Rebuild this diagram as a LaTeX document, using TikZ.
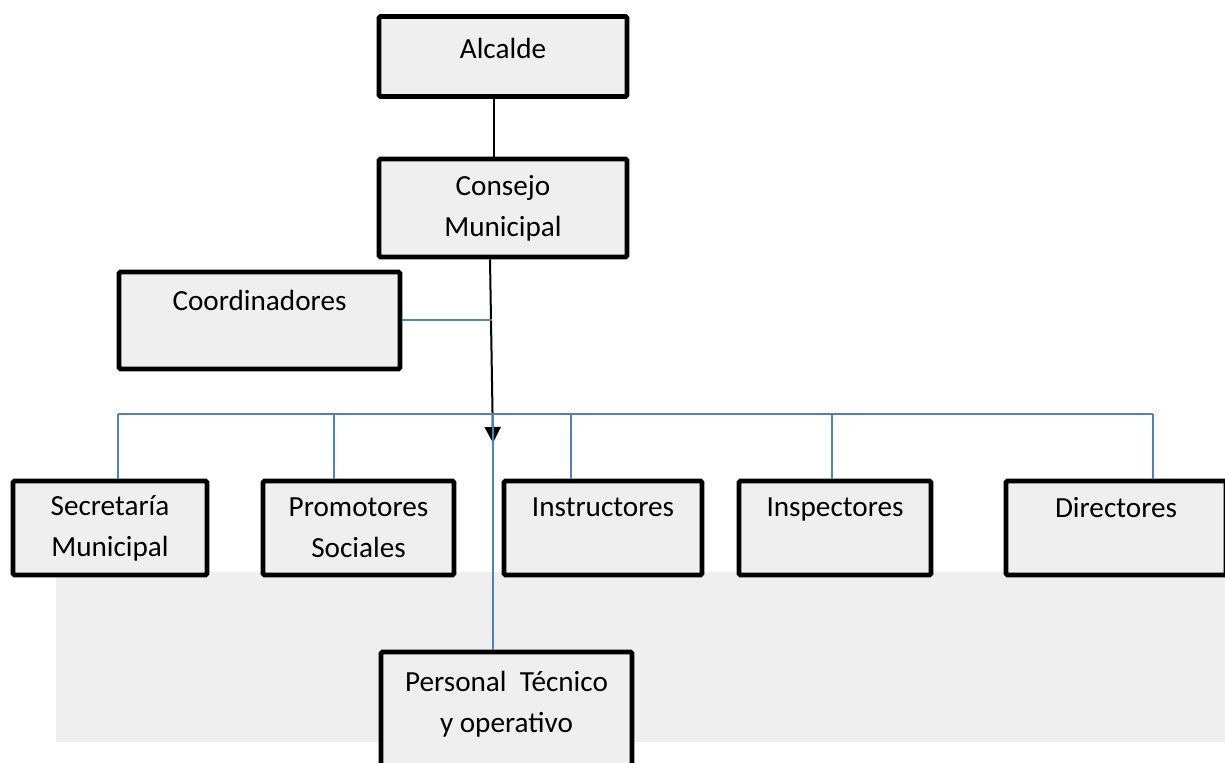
\documentclass[tikz,border=0pt]{standalone}
\usepackage{fontspec}
\setmainfont{Carlito}
\usetikzlibrary{arrows.meta}
\definecolor{cajagris}{RGB}{239,239,239}
\definecolor{azul}{RGB}{79,129,189}
\tikzset{
  caja/.style={draw=black, line width=2.4pt, fill=cajagris, rounded corners=0.8pt,
    align=center, inner sep=0pt, font=\fontsize{14.6}{20.5}\selectfont},
  enlace/.style={draw=azul, line width=0.8pt},
  mando/.style={draw=black, line width=1pt},
}

\begin{document}
\begin{tikzpicture}[x=0.5pt, y=-0.5pt]
  \useasboundingbox (0,0) rectangle (1225,763);
  \clip (0,0) rectangle (1225,763);
  \fill[cajagris] (56,572) rectangle (1225,742);

  % mandos
  \node[caja, minimum width=124pt, minimum height=40pt, text depth=8pt] (alcalde) at (503,56.5) {Alcalde};
  \node[caja, minimum width=124pt, minimum height=49pt] (consejo) at (503,208) {Consejo\\Municipal};
  \node[caja, minimum width=140.5pt, minimum height=48.5pt] (coordinadores) at (259.5,320.5) {Coordinadores\\\mbox{}};

  % fila de abajo
  \node[caja, minimum width=97pt, minimum height=47pt] (secretaria) at (110,528) {Secretaría\\Municipal};
  \node[caja, minimum width=95.5pt, minimum height=47pt] (promotores) at (358.5,528) {Promotores\\Sociales};
  \node[caja, minimum width=99pt, minimum height=47pt] (instructores) at (603,528) {Instructores\\\mbox{}};
  \node[caja, minimum width=96pt, minimum height=47pt] (inspectores) at (835,528) {Inspectores\\\mbox{}};
  \node[caja, minimum width=110pt, minimum height=47pt] (directores) at (1116,528) {Directores\\\mbox{}};
  \node[caja, minimum width=125.5pt, minimum height=70pt] (personal) at (506.5,722) {Personal~ Técnico\\y operativo\\\mbox{}};

  \coordinate (ejeA) at (494,0);
  \coordinate (ejeB) at (490,0);
  \coordinate (flecha) at (493,443);
  \coordinate (codo) at (492,320);
  \coordinate (nudo) at (493,414);
  \coordinate (busA) at (118,414);
  \coordinate (busB) at (334,414);
  \coordinate (busC) at (571,414);
  \coordinate (busD) at (832,414);
  \coordinate (busE) at (1153,414);

  \draw[mando] (alcalde.south -| ejeA) -- (consejo.north -| ejeA);
  \draw[mando, -{Triangle[length=8pt,width=8pt]}] (consejo.south -| ejeB) -- (flecha);

  \draw[enlace] (coordinadores.east |- codo) -- (codo);
  \draw[enlace] (busA) -- (busE);
  \draw[enlace] (busA) -- (busA |- secretaria.north);
  \draw[enlace] (busB) -- (busB |- promotores.north);
  \draw[enlace] (busC) -- (busC |- instructores.north);
  \draw[enlace] (busD) -- (busD |- inspectores.north);
  \draw[enlace] (busE) -- (busE |- directores.north);
  \draw[enlace] (nudo) -- (nudo |- personal.north);
\end{tikzpicture}
\end{document}
